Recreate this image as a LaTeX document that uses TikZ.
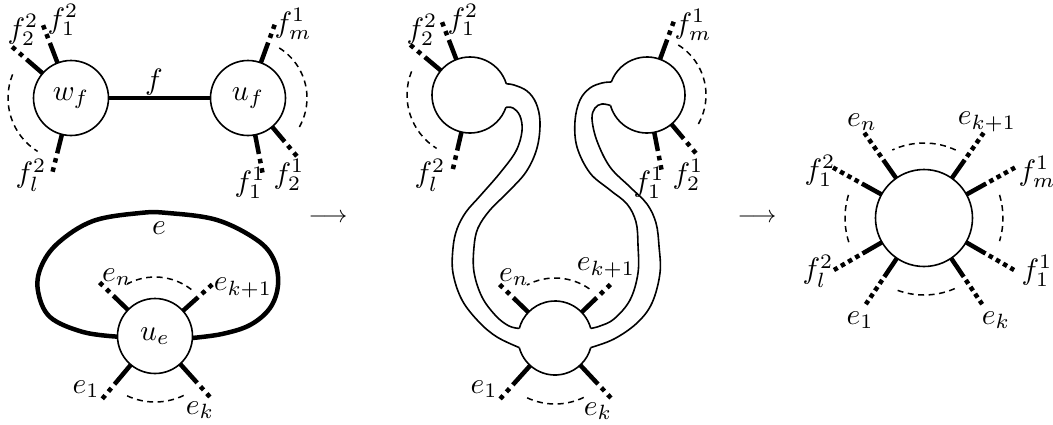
\documentclass[tikz,border=0pt]{standalone}
\usetikzlibrary{calc}
\newcommand\sbx[1]{\scalebox{2.95}{#1}}
\newcommand\stubA[4]{%
  \draw[stubsolid] (#1.#2) -- ($(#1.center)+(#2:#3pt)$);
  \draw[stubdotsA] ($(#1.center)+(#2:#3pt)$) -- ($(#1.center)+(#2:#4pt)$);}
\newcommand\stubB[4]{%
  \draw[stubsolid] (#1.#2) -- ($(#1.center)+(#2:#3pt)$);
  \draw[stubdotsB] ($(#1.center)+(#2:#3pt)$) -- ($(#1.center)+(#2:#4pt)$);}
\begin{document}
\begin{tikzpicture}[x=1pt,y=-1pt,
  lbl/.style={inner sep=0pt},
  vtx/.style={circle, draw, line width=1.6pt, inner sep=0pt, outer sep=0pt, minimum size=75pt},
  ghost/.style={circle, inner sep=0pt, outer sep=0pt, minimum size=76pt},
  bandline/.style={line width=1.6pt},
  stubsolid/.style={line width=4.5pt},
  stubdotsA/.style={line width=4.5pt, dash pattern=on 4.5pt off 5pt, dash phase=4.5pt},
  stubdotsB/.style={line width=4.5pt, dash pattern=on 4.5pt off 3.8pt, dash phase=4.5pt},
  arcdash/.style={line width=1.5pt, dash pattern=on 6pt off 4.5pt},
  heavy/.style={line width=4.5pt},
  arrowtext/.style={inner sep=0pt},
]
\useasboundingbox (0,0) rectangle (1053,424);

% ---------- left: edge f ----------
\node[vtx] (wf) at (71,98) {\sbx{$w_f$}};
\node[vtx] (uf) at (248,98) {\sbx{$u_f$}};
\draw[heavy] (wf) -- (uf);
\node[lbl] (lf) at (154,82) {\sbx{$f$}};
\stubA{wf}{139}{59}{78}
\stubA{wf}{111}{59}{78}
\stubA{wf}{256}{57}{76}
\stubA{uf}{70}{59}{78}
\stubA{uf}{-79}{57}{76}
\stubA{uf}{-50}{57}{76}
\draw[arcdash] ($(wf.center)+(158:63pt)$) arc[start angle=158, end angle=238, radius=63pt];
\draw[arcdash] ($(uf.center)+(58:59pt)$) arc[start angle=58, end angle=-33, radius=59pt];
\node[lbl] (a22) at (23,30) {\sbx{$f_2^2$}};
\node[lbl] (a12) at (63,20) {\sbx{$f_1^2$}};
\node[lbl] (al2) at (31,175) {\sbx{$f_l^2$}};
\node[lbl] (am1) at (293,24) {\sbx{$f_m^1$}};
\node[lbl] (a11) at (250,183) {\sbx{$f_1^1$}};
\node[lbl] (a21) at (289,175) {\sbx{$f_2^1$}};

% ---------- left: loop e ----------
\node[vtx] (ue) at (155,336) {\sbx{$u_e$}};
\draw[heavy] plot[smooth, tension=0.6] coordinates {(ue.181) (83,332) (50,317) (38,291) (41,267) (58,243) (93,221) (140,213) (168,213) (217,220) (257,240) (274,260) (278,285) (270,308) (250,325) (222,334) (ue.-3)};
\node[lbl] (le) at (159,228) {\sbx{$e$}};
\stubA{ue}{136}{58}{77}
\stubA{ue}{42}{58}{77}
\stubA{ue}{230}{63}{82}
\stubA{ue}{312}{63}{82}
\draw[arcdash] ($(ue.center)+(52:59pt)$) arc[start angle=52, end angle=118, radius=59pt];
\draw[arcdash] ($(ue.center)+(245:66pt)$) arc[start angle=245, end angle=297, radius=66pt];
\node[lbl] (len) at (117,277) {\sbx{$e_n$}};
\node[lbl] (lek1) at (243,288) {\sbx{$e_{k+1}$}};
\node[lbl] (le1) at (86,389) {\sbx{$e_1$}};
\node[lbl] (lek) at (200,410) {\sbx{$e_k$}};

% ---------- arrows ----------
\node[arrowtext] (arr1) at (328,218) {\scalebox{2.4}{$\longrightarrow$}};
\node[arrowtext] (arr2) at (757,218) {\scalebox{2.4}{$\longrightarrow$}};

% ---------- middle ----------
\node[ghost] (ml) at (470,95) {};
\node[ghost] (mr) at (647,95) {};
\node[ghost, minimum size=74pt] (mb) at (555,338) {};
\draw[bandline] (ml.17) arc[start angle=17, end angle=341, radius=38pt];
\draw[bandline] (mr.196) arc[start angle=196, end angle=520, radius=38pt];
\draw[bandline] (mb.15) arc[start angle=15, end angle=165, radius=37pt];
\draw[bandline] (mb.195) arc[start angle=195, end angle=345, radius=37pt];
% bands
\draw[bandline] plot[smooth, tension=0.6] coordinates {(ml.17) (514,85) (527,91) (536,103) (540,122) (537,148) (526,172) (507,193) (490,210) (478,228) (474,247) (474,272) (482,297) (496,316) (509,326) (mb.165)};
\draw[bandline] plot[smooth, tension=0.6] coordinates {(ml.-19) (513,108) (520,116) (522,131) (516,151) (500,173) (480,196) (466,212) (457,229) (453,248) (453,273) (462,300) (479,322) (497,337) (mb.195)};
\draw[bandline] plot[smooth, tension=0.6] coordinates {(mr.160) (602,83) (590,88) (580,100) (575,121) (577,147) (590,173) (610,190) (627,204) (636,222) (638,245) (638,273) (630,300) (614,319) (600,326) (mb.15)};
\draw[bandline] plot[smooth, tension=0.6] coordinates {(mr.196) (602,104) (595,108) (592,119) (597,141) (610,167) (630,187) (647,204) (656,223) (659,246) (660,273) (652,303) (637,323) (614,339) (mb.-15)};
\stubA{ml}{140}{59}{78}
\stubA{ml}{111}{59}{78}
\stubA{ml}{257}{57}{76}
\stubA{mr}{70}{59}{78}
\stubA{mr}{-79}{57}{76}
\stubA{mr}{-50}{57}{76}
\stubA{mb}{136}{58}{77}
\stubA{mb}{44}{58}{77}
\stubA{mb}{228}{63}{82}
\stubA{mb}{313}{63}{82}
\draw[arcdash] ($(ml.center)+(158:63pt)$) arc[start angle=158, end angle=238, radius=63pt];
\draw[arcdash] ($(mr.center)+(58:59pt)$) arc[start angle=58, end angle=-33, radius=59pt];
\draw[arcdash] ($(mb.center)+(55:60pt)$) arc[start angle=55, end angle=118, radius=60pt];
\draw[arcdash] ($(mb.center)+(245:66pt)$) arc[start angle=245, end angle=297, radius=66pt];
\node[lbl] (b22) at (422,30) {\sbx{$f_2^2$}};
\node[lbl] (b12) at (463,20) {\sbx{$f_1^2$}};
\node[lbl] (bl2) at (430,175) {\sbx{$f_l^2$}};
\node[lbl] (bm1) at (693,25) {\sbx{$f_m^1$}};
\node[lbl] (b11) at (649,183) {\sbx{$f_1^1$}};
\node[lbl] (b21) at (688,175) {\sbx{$f_2^1$}};
\node[lbl] (ben) at (514,277) {\sbx{$e_n$}};
\node[lbl] (bek1) at (606,268) {\sbx{$e_{k+1}$}};
\node[lbl] (be1) at (484,389) {\sbx{$e_1$}};
\node[lbl] (bek) at (598,411) {\sbx{$e_k$}};

% ---------- right ----------
\node[vtx, minimum size=97pt] (rc) at (924,218) {};
\foreach \a in {125,55,29,151,-30,210,-56,236} {\stubB{rc}{\a}{71}{104}}
\draw[arcdash] ($(rc.center)+(65:75pt)$) arc[start angle=65, end angle=115, radius=75pt];
\draw[arcdash] ($(rc.center)+(250:77pt)$) arc[start angle=250, end angle=296, radius=77pt];
\draw[arcdash] ($(rc.center)+(163:79pt)$) arc[start angle=163, end angle=200, radius=79pt];
\draw[arcdash] ($(rc.center)+(17:79pt)$) arc[start angle=17, end angle=-17, radius=79pt];
\node[lbl] (cen) at (862,122) {\sbx{$e_n$}};
\node[lbl] (cek1) at (987,122) {\sbx{$e_{k+1}$}};
\node[lbl] (c12) at (820,171) {\sbx{$f_1^2$}};
\node[lbl] (cm1) at (1037,172) {\sbx{$f_m^1$}};
\node[lbl] (cl2) at (818,271) {\sbx{$f_l^2$}};
\node[lbl] (c11) at (1037,271) {\sbx{$f_1^1$}};
\node[lbl] (ce1) at (860,320) {\sbx{$e_1$}};
\node[lbl] (cek) at (996,320) {\sbx{$e_k$}};
\end{tikzpicture}
\end{document}
